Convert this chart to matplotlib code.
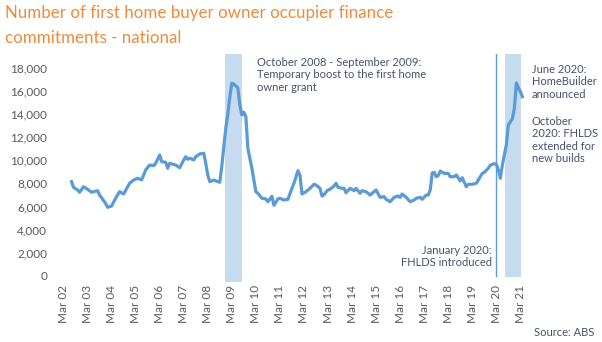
import matplotlib
matplotlib.use("Agg")
import matplotlib.pyplot as plt
import pandas as pd

plt.rcParams['font.family'] = ['Lato', 'DejaVu Sans']

# ---- data ----
months = [
    "2002-07", "2002-08", "2002-10", "2002-11", "2003-01", "2003-03", "2003-05", "2003-08", "2003-09", "2003-12",
    "2004-01", "2004-03", "2004-05", "2004-07", "2004-09", "2004-12", "2005-02", "2005-04", "2005-06", "2005-08",
    "2005-10", "2005-12", "2006-01", "2006-03", "2006-04", "2006-06", "2006-07", "2006-08", "2006-11", "2007-01",
    "2007-03", "2007-04", "2007-05", "2007-06", "2007-08", "2007-09", "2007-11", "2008-01", "2008-02", "2008-03",
    "2008-04", "2008-06", "2008-08", "2008-09", "2008-10", "2008-11", "2008-12", "2009-01", "2009-02", "2009-03",
    "2009-04", "2009-06", "2009-07", "2009-08", "2009-09", "2009-10", "2009-11", "2010-01", "2010-03", "2010-04",
    "2010-06", "2010-08", "2010-09", "2010-11", "2010-12", "2011-02", "2011-03", "2011-05", "2011-07", "2011-09",
    "2011-10", "2011-12", "2012-01", "2012-02", "2012-04", "2012-06", "2012-08", "2012-09", "2012-11", "2012-12",
    "2013-01", "2013-02", "2013-03", "2013-04", "2013-06", "2013-07", "2013-08", "2013-10", "2013-11", "2013-12",
    "2014-02", "2014-04", "2014-05", "2014-07", "2014-08", "2014-10", "2014-12", "2015-01", "2015-03", "2015-05",
    "2015-07", "2015-08", "2015-10", "2015-12", "2016-02", "2016-03", "2016-04", "2016-06", "2016-08", "2016-10",
    "2016-11", "2017-01", "2017-02", "2017-04", "2017-05", "2017-06", "2017-07", "2017-08", "2017-09", "2017-10",
    "2017-11", "2018-01", "2018-03", "2018-04", "2018-06", "2018-07", "2018-09", "2018-10", "2018-12", "2019-01",
    "2019-03", "2019-05", "2019-06", "2019-08", "2019-09", "2019-11", "2019-12", "2020-02", "2020-03", "2020-04",
    "2020-05", "2020-06", "2020-08", "2020-09", "2020-11", "2020-12", "2021-01", "2021-03", "2021-04",
]
commitments = [
    8150, 7660, 7430, 7230, 7710, 7490, 7230, 7370, 6990, 6270,
    5930, 6040, 6710, 7280, 7080, 8010, 8290, 8440, 8300, 9160,
    9590, 9540, 9740, 10460, 9880, 9830, 9310, 9740, 9590, 9360,
    10030, 10310, 10090, 10180, 10030, 10310, 10550, 10610, 9740, 8730,
    8150, 8290, 8150, 8100, 9500, 11200, 12800, 14000, 15500, 16680,
    16600, 16290, 14800, 13930, 14160, 13780, 11040, 9310, 7280, 7140,
    6710, 6650, 6410, 6880, 6100, 6650, 6710, 6560, 6620, 7570,
    8000, 9100, 8730, 7080, 7280, 7570, 7920, 7860, 7570, 6910,
    7000, 7250, 7430, 7490, 7770, 8010, 7660, 7570, 7570, 7190,
    7570, 7370, 7570, 7140, 7370, 7280, 6990, 7140, 7430, 6790,
    6850, 6620, 6410, 6790, 6910, 6790, 7080, 6790, 6410, 6560,
    6710, 6790, 6620, 6990, 6990, 7430, 8900, 8960, 8580, 8670,
    9070, 8870, 8870, 8580, 8580, 8730, 8210, 8490, 7710, 7920,
    7920, 8010, 8290, 8870, 8960, 9310, 9590, 9710, 9660, 9160,
    8440, 9590, 11330, 13060, 13600, 14500, 16700, 15950, 15510,
]
tick_labels = ["Mar %02d" % y for y in range(2, 22)]
y_ticks = list(range(0, 18001, 2000))

# event periods in months since Mar 2002 (as placed on the chart)
gfc_span = (80.6, 89.0)
homebuilder_span = (220.3, 228.1)
fhlds_line = 215.7

# ---- styling ----
LINE = "#5B9BD5"
SHADE = "#C6DBF0"
TEXT = "#44546A"
GREY = "#595959"
TITLE = "#F08A3C"

dt = pd.to_datetime(pd.Series(months) + "-01")
x = (dt.dt.year - 2002) * 12 + dt.dt.month - 3

fig = plt.figure(figsize=(6.02, 3.42), dpi=100)
W, H = 602, 342
ax = fig.add_axes([50 / W, 59.95 / H, 485 / W, 227.9 / H])
ax.set_xlim(-6.74, 235.3)
ax.set_ylim(-550, 19200)

ax.axvspan(*gfc_span, color=SHADE, lw=0, zorder=1)
ax.axvspan(homebuilder_span[0], homebuilder_span[1], ymin=(0 - -550) / (19200 + 550) - 0.005,
           color=SHADE, lw=0, zorder=1)
ax.plot([fhlds_line, fhlds_line], [0, 19200], color=LINE, lw=1.0, zorder=2)
ax.plot(x, commitments, color=LINE, lw=2.3, solid_joinstyle="round", zorder=3)

for s in ax.spines.values():
    s.set_visible(False)
ax.set_yticks(y_ticks)
ax.set_yticklabels([f"{v:,}" for v in y_ticks])
ax.set_xticks([12 * i for i in range(len(tick_labels))])
ax.set_xticklabels(tick_labels, rotation=90, va="top", ha="center")
ax.tick_params(axis="both", length=0, colors=GREY, labelsize=8.5)
ax.tick_params(axis="x", pad=2)
ax.tick_params(axis="y", pad=2)

fig.text(5 / W, 1 - 18 / H, "Number of first home buyer owner occupier finance",
         color=TITLE, fontsize=12.2, va="baseline", ha="left")
fig.text(5 / W, 1 - 43 / H, "commitments - national",
         color=TITLE, fontsize=12.2, va="baseline", ha="left")

ax.annotate("October 2008 - September 2009:\nTemporary boost to the first home\nowner grant",
            xy=(257 / W, 1 - 57 / H), xycoords="figure fraction", va="top", ha="left",
            fontsize=8, color=TEXT, linespacing=1.15)
ax.annotate("June 2020:\nHomeBuilder\nannounced",
            xy=(532 / W, 1 - 64 / H), xycoords="figure fraction", va="top", ha="left",
            fontsize=8, color=TEXT, linespacing=1.15)
ax.annotate("October\n2020: FHLDS\nextended for\nnew builds",
            xy=(532 / W, 1 - 116 / H), xycoords="figure fraction", va="top", ha="left",
            fontsize=8, color=TEXT, linespacing=1.15)
ax.annotate("January 2020:\nFHLDS introduced",
            xy=(492 / W, 1 - 245 / H), xycoords="figure fraction", va="top", ha="right",
            fontsize=8, color=TEXT, linespacing=1.15)
fig.text(594 / W, 1 - 327 / H, "Source: ABS", color=TEXT, fontsize=8, va="top", ha="right")

fig.savefig("out.png", dpi=100)
